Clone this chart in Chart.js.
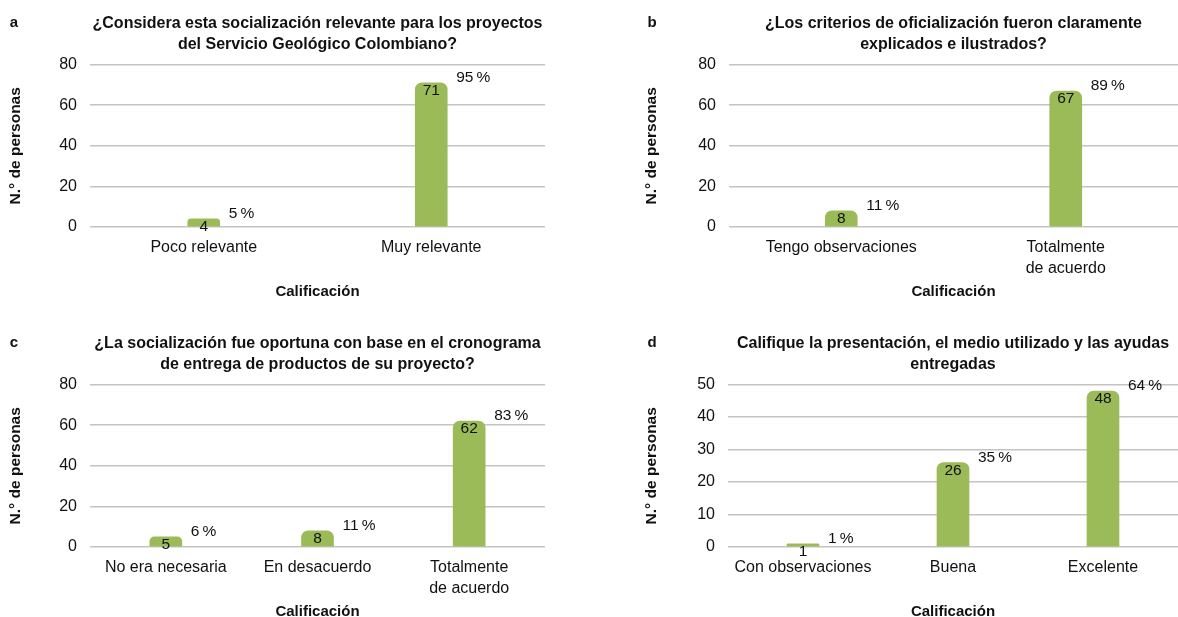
<!DOCTYPE html>
<html lang="es">
<head>
<meta charset="utf-8">
<title>Encuesta de socialización</title>
<script src="https://cdn.jsdelivr.net/npm/chart.js@4.4.1/dist/chart.umd.min.js"></script>
<style>
    html, body { margin: 0; padding: 0; background: #fff; overflow: hidden; }
    body { width: 1178px; height: 617px; position: relative; }
    canvas { position: absolute; }
</style>
</head>
<body>
<canvas id="chartA" width="589" height="310" style="left:0;top:0;width:589px;height:310px"></canvas>
<canvas id="chartB" width="589" height="310" style="left:589px;top:0;width:589px;height:310px"></canvas>
<canvas id="chartC" width="589" height="310" style="left:0;top:320px;width:589px;height:310px"></canvas>
<canvas id="chartD" width="589" height="310" style="left:589px;top:320px;width:589px;height:310px"></canvas>
<script>
// Panel a
const titleA = ['¿Considera esta socialización relevante para los proyectos', 'del Servicio Geológico Colombiano?'];
const catsA = ['Poco relevante', 'Muy relevante'];
const valsA = [4, 71];
const pctA = ['5', '95'];

// Panel b
const titleB = ['¿Los criterios de oficialización fueron claramente', 'explicados e ilustrados?'];
const catsB = ['Tengo observaciones', ['Totalmente', 'de acuerdo']];
const valsB = [8, 67];
const pctB = ['11', '89'];

// Panel c
const titleC = ['¿La socialización fue oportuna con base en el cronograma', 'de entrega de productos de su proyecto?'];
const catsC = ['No era necesaria', 'En desacuerdo', ['Totalmente', 'de acuerdo']];
const valsC = [5, 8, 62];
const pctC = ['6', '11', '83'];

// Panel d
const titleD = ['Califique la presentación, el medio utilizado y las ayudas', 'entregadas'];
const catsD = ['Con observaciones', 'Buena', 'Excelente'];
const valsD = [1, 26, 48];
const pctD = ['1', '35', '64'];

// y axis ranges: [max, step]
const yRangeABC = [80, 20];
const yRangeD = [50, 10];

const FONT = '"Liberation Sans", Arial, Helvetica, sans-serif';
Chart.defaults.font.family = FONT;
Chart.defaults.color = '#111';

// value inside bar top, percentage to the right, panel letter
const barLabels = {
    id: 'barLabels',
    afterDatasetsDraw(chart, args, opts) {
        const ctx = chart.ctx;
        const meta = chart.getDatasetMeta(0);
        const data = chart.data.datasets[0].data;
        ctx.save();
        ctx.fillStyle = '#111';
        ctx.textBaseline = 'middle';
        ctx.font = '15.5px ' + FONT;
        meta.data.forEach(function(bar, i) {
            ctx.textAlign = 'center';
            ctx.fillText(String(data[i]), bar.x, bar.y + 8);
            ctx.textAlign = 'left';
            ctx.fillText(opts.pct[i] + '\u2009%', bar.x + bar.width / 2 + 9, bar.y - 5);
        });
        ctx.font = 'bold 15px ' + FONT;
        ctx.textAlign = 'center';
        ctx.fillText(opts.letter, opts.letterX, 23);
        ctx.restore();
    }
};

function makeChart(id, title, cats, vals, pct, letter, yRange, geo) {
    const ctx = document.getElementById(id).getContext('2d');
    return new Chart(ctx, {
        type: 'bar',
        data: {
            labels: cats,
            datasets: [{
                data: vals,
                backgroundColor: '#9bbb59',
                barThickness: 32,
                borderRadius: { topLeft: 7, topRight: 7 },
                borderSkipped: 'bottom'
            }]
        },
        options: {
            responsive: false,
            animation: false,
            layout: { padding: { left: 0, right: geo.right, top: 0, bottom: 0 } },
            plugins: {
                legend: { display: false },
                tooltip: { enabled: false },
                title: {
                    display: true,
                    text: title,
                    fullSize: false,
                    color: '#111',
                    font: { size: 16, weight: 'bold', lineHeight: 1.3 },
                    padding: { top: 13, bottom: 10 }
                },
                barLabels: { pct: pct, letter: letter, letterX: geo.letterX }
            },
            scales: {
                x: {
                    grid: { display: false },
                    border: { display: false },
                    ticks: { font: { size: 16, lineHeight: 1.3 }, padding: 2, maxRotation: 0, autoSkip: false, color: '#111' },
                    title: {
                        display: true,
                        text: 'Calificación',
                        color: '#111',
                        font: { size: 15, weight: 'bold', lineHeight: 1.2 },
                        padding: { top: 0, bottom: 9 }
                    },
                    afterFit: function(scale) { scale.height = 83; }
                },
                y: {
                    min: 0,
                    max: yRange[0],
                    ticks: { stepSize: yRange[1], font: { size: 16 }, padding: 13, color: '#111' },
                    grid: { color: '#c4c4c4', lineWidth: 1.5, drawTicks: false },
                    border: { display: false },
                    title: {
                        display: true,
                        text: 'N.° de personas',
                        color: '#111',
                        font: { size: 15.5, weight: 'bold', lineHeight: 1.2 },
                        padding: { top: geo.ytitle - 9.3, bottom: 0 }
                    },
                    afterFit: function(scale) { scale.width = geo.left; }
                }
            }
        },
        plugins: [barLabels]
    });
}

makeChart('chartA', titleA, catsA, valsA, pctA, 'a', yRangeABC, { left: 90, right: 44, ytitle: 16, letterX: 14 });
makeChart('chartB', titleB, catsB, valsB, pctB, 'b', yRangeABC, { left: 140, right: 0, ytitle: 63, letterX: 63 });
makeChart('chartC', titleC, catsC, valsC, pctC, 'c', yRangeABC, { left: 90, right: 44, ytitle: 16, letterX: 14 });
makeChart('chartD', titleD, catsD, valsD, pctD, 'd', yRangeD, { left: 139, right: 0, ytitle: 63, letterX: 63 });
</script>
</body>
</html>
